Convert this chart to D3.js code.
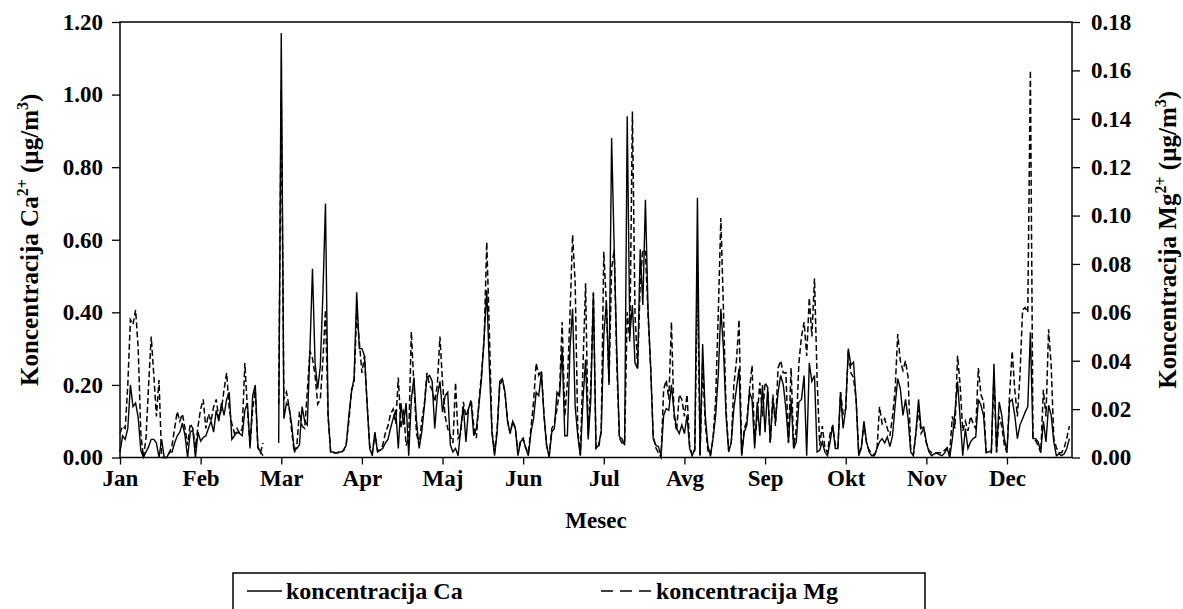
<!DOCTYPE html>
<html>
<head>
<meta charset="utf-8">
<script src="https://cdn.jsdelivr.net/npm/d3@7"></script>
<style>
  body { margin: 0; background: #fff; }
  text { font-family: "Liberation Serif", "Times New Roman", serif; font-weight: bold; fill: #000; }
</style>
</head>
<body>
<svg width="1183" height="609"></svg>
<script>
// month labels and the day index where each tick sits (Excel-style, every 31 days)
var months = ["Jan", "Feb", "Mar", "Apr", "Maj", "Jun", "Jul", "Avg", "Sep", "Okt", "Nov", "Dec"];
var monthTicks = [0, 31, 62, 93, 124, 155, 186, 217, 248, 279, 310, 341];

var caTicks = [0, 0.2, 0.4, 0.6, 0.8, 1.0, 1.2];
var mgTicks = [0, 0.02, 0.04, 0.06, 0.08, 0.10, 0.12, 0.14, 0.16, 0.18];

// daily Ca2+ concentration (µg/m3), null = no sample
var ca = [
  0.015,0.06,0.05,0.08,0.20,0.14,0.15,0.11,0.02,0.0,
  0.015,0.03,0.05,0.05,0.04,0.0,0.05,0.0,0.0,0.015,
  0.015,0.04,0.06,0.07,0.095,0.06,0.0,0.07,0.075,0.0,
  0.07,0.045,0.055,0.06,0.08,0.1,0.07,0.13,0.1,0.15,
  0.116,0.16,0.18,0.05,0.06,0.07,0.066,0.06,0.13,0.15,
  0.025,0.17,0.2,0.03,0.015,0.005,null,null,null,null,
  null,0.04,1.17,0.107,0.15,0.14,0.09,0.02,0.025,0.035,
  0.14,0.1,0.09,0.29,0.52,0.26,0.19,0.25,0.45,0.70,
  0.116,0.015,0.015,0.012,0.015,0.015,0.02,0.035,0.116,0.18,
  0.22,0.455,0.30,0.30,0.28,0.15,0.025,0.005,0.07,0.015,
  0.02,0.025,0.04,0.05,0.08,0.107,0.13,0.025,0.15,0.09,
  0.15,0.005,0.16,0.22,0.1,0.025,0.07,0.14,0.22,0.226,
  0.21,0.08,0.17,0.21,0.125,0.17,0.18,0.035,0.015,0.025,
  0.005,0.08,0.14,0.043,0.135,0.153,0.06,0.08,0.144,0.22,
  0.33,0.46,0.25,0.07,0.005,0.07,0.21,0.217,0.18,0.1,
  0.066,0.1,0.08,0.005,0.043,0.052,0.025,0.005,0.07,0.107,
  0.18,0.17,0.235,0.116,0.034,0.0,0.07,0.08,0.18,0.17,
  0.30,0.06,0.06,0.30,0.41,0.14,0.06,0.005,0.16,0.27,
  0.05,0.16,0.455,0.025,0.034,0.07,0.336,0.43,0.2,0.88,
  0.574,0.29,0.057,0.052,0.034,0.94,0.336,0.42,0.26,0.245,
  0.574,0.42,0.71,0.41,0.25,0.052,0.034,0.03,0.005,0.116,
  0.135,0.13,0.2,0.125,0.08,0.066,0.09,0.066,0.116,0.025,
  0.005,0.025,0.716,0.005,0.313,0.116,0.034,0.005,0.052,0.116,
  0.226,0.41,0.30,0.116,0.015,0.043,0.135,0.19,0.245,0.005,
  0.07,0.09,0.18,0.16,0.025,0.153,0.06,0.2,0.07,0.19,
  0.043,0.16,0.1,0.18,0.226,0.2,0.135,0.043,0.16,0.025,
  0.043,0.153,0.16,0.226,0.005,0.26,0.21,0.226,0.015,0.02,
  0.043,0.015,0.005,0.043,0.09,0.025,0.025,0.18,0.08,0.135,
  0.30,0.254,0.263,0.16,0.005,0.025,0.1,0.043,0.015,0.005,
  0.005,0.025,0.043,0.052,0.04,0.057,0.03,0.06,0.144,0.217,
  0.19,0.116,0.16,0.107,0.015,0.005,0.07,0.16,0.08,0.084,
  0.043,0.015,0.005,0.01,0.012,0.008,0.005,0.012,0.025,0.0,
  0.052,0.125,0.21,0.107,0.005,0.08,0.025,0.043,0.052,0.057,
  0.16,0.144,0.116,0.015,0.015,0.02,0.258,0.015,0.153,0.116,
  0.052,0.015,0.153,0.16,0.116,0.052,0.09,0.107,0.125,0.14,
  0.345,0.052,0.052,0.043,0.015,0.1,0.043,0.144,0.116,0.043,
  0.005,0.01,0.005,0.01,0.025,0.052
];

// daily Mg2+ concentration (µg/m3)
var mg = [
  0.01,0.013,0.012,0.03,0.057,0.055,0.061,0.045,0.01,0.0,
  0.008,0.03,0.05,0.034,0.017,0.032,0.0,0.0,0.0,0.002,
  0.005,0.012,0.019,0.015,0.018,0.012,0.005,0.014,0.012,0.004,
  0.013,0.02,0.024,0.012,0.018,0.015,0.021,0.024,0.016,0.02,
  0.028,0.035,0.02,0.014,0.01,0.012,0.01,0.012,0.039,0.02,
  0.005,0.02,0.028,0.004,0.002,0.006,null,null,null,null,
  null,0.022,0.152,0.024,0.027,0.021,0.011,0.002,0.005,0.019,
  0.013,0.012,0.027,0.044,0.041,0.034,0.022,0.024,0.04,0.061,
  0.017,0.002,0.002,0.002,0.002,0.002,0.003,0.006,0.015,0.028,
  0.031,0.06,0.048,0.035,0.042,0.022,0.005,0.002,0.01,0.003,
  0.003,0.005,0.01,0.013,0.018,0.02,0.014,0.033,0.012,0.02,
  0.005,0.008,0.052,0.03,0.01,0.005,0.015,0.022,0.035,0.03,
  0.028,0.023,0.03,0.05,0.031,0.017,0.012,0.009,0.006,0.031,
  0.008,0.01,0.023,0.017,0.02,0.024,0.013,0.008,0.023,0.035,
  0.049,0.089,0.052,0.011,0.002,0.012,0.03,0.032,0.027,0.015,
  0.01,0.015,0.012,0.002,0.007,0.008,0.004,0.002,0.012,0.023,
  0.039,0.034,0.036,0.018,0.005,0.001,0.012,0.014,0.02,0.028,
  0.056,0.017,0.031,0.059,0.092,0.072,0.011,0.001,0.038,0.072,
  0.009,0.03,0.068,0.004,0.004,0.011,0.085,0.063,0.031,0.078,
  0.086,0.038,0.008,0.006,0.006,0.06,0.048,0.143,0.059,0.037,
  0.072,0.086,0.085,0.059,0.038,0.009,0.004,0.002,0.0,0.028,
  0.032,0.024,0.056,0.017,0.011,0.026,0.024,0.017,0.026,0.005,
  0.001,0.003,0.077,0.001,0.039,0.014,0.003,0.001,0.008,0.024,
  0.059,0.099,0.061,0.02,0.003,0.006,0.03,0.04,0.057,0.001,
  0.012,0.015,0.028,0.038,0.006,0.017,0.031,0.017,0.031,0.029,
  0.006,0.026,0.013,0.037,0.04,0.035,0.035,0.006,0.037,0.004,
  0.012,0.039,0.05,0.056,0.042,0.066,0.05,0.074,0.033,0.005,
  0.013,0.004,0.002,0.01,0.013,0.005,0.004,0.027,0.018,0.02,
  0.044,0.035,0.033,0.024,0.002,0.004,0.014,0.006,0.003,0.002,
  0.001,0.003,0.021,0.014,0.016,0.012,0.009,0.017,0.028,0.051,
  0.04,0.036,0.04,0.033,0.003,0.001,0.01,0.02,0.01,0.012,
  0.006,0.003,0.002,0.002,0.002,0.002,0.002,0.003,0.004,0.002,
  0.017,0.012,0.042,0.03,0.011,0.015,0.011,0.017,0.014,0.012,
  0.037,0.026,0.023,0.002,0.002,0.002,0.034,0.002,0.017,0.013,
  0.005,0.002,0.026,0.044,0.028,0.017,0.034,0.061,0.062,0.06,
  0.16,0.008,0.007,0.005,0.002,0.028,0.017,0.053,0.038,0.008,
  0.004,0.002,0.002,0.004,0.008,0.013
];

var svg = d3.select("svg"),
    margin = {top: 22, right: 111, bottom: 151.5, left: 120},
    width = +svg.attr("width"),
    height = +svg.attr("height");

var x = d3.scaleLinear()
    .domain([0, 366])
    .range([margin.left, width - margin.right]);

var yCa = d3.scaleLinear()
    .domain([0, 1.2])
    .range([height - margin.bottom, margin.top]);

var yMg = d3.scaleLinear()
    .domain([0, 0.18])
    .range([height - margin.bottom, margin.top]);

var lineCa = d3.line()
    .defined(function(d) { return d != null; })
    .x(function(d, i) { return x(i); })
    .y(function(d) { return yCa(d); });

var lineMg = d3.line()
    .defined(function(d) { return d != null; })
    .x(function(d, i) { return x(i); })
    .y(function(d) { return yMg(d); });

// series
svg.append("path")
    .datum(mg)
    .attr("fill", "none")
    .attr("stroke", "#000")
    .attr("stroke-width", 1.5)
    .attr("stroke-dasharray", "6,3")
    .attr("d", lineMg);

svg.append("path")
    .datum(ca)
    .attr("fill", "none")
    .attr("stroke", "#000")
    .attr("stroke-width", 1.4)
    .attr("d", lineCa);

// plot frame
svg.append("rect")
    .attr("x", margin.left)
    .attr("y", margin.top)
    .attr("width", width - margin.right - margin.left)
    .attr("height", height - margin.bottom - margin.top)
    .attr("fill", "none")
    .attr("stroke", "#000")
    .attr("stroke-width", 1.5);

function styleAxis(g) {
  g.select(".domain").remove();
  g.selectAll(".tick line").attr("stroke", "#000").attr("stroke-width", 1.3);
  g.selectAll(".tick text")
      .attr("font-family", "Liberation Serif, Times New Roman, serif")
      .attr("font-weight", "bold")
      .attr("font-size", 23)
      .attr("fill", "#000");
}

svg.append("g")
    .attr("transform", "translate(" + margin.left + ",0)")
    .call(d3.axisLeft(yCa).tickValues(caTicks).tickFormat(d3.format(".2f"))
      .tickSize(8).tickPadding(9))
    .call(styleAxis);

svg.append("g")
    .attr("transform", "translate(" + (width - margin.right) + ",0)")
    .call(d3.axisRight(yMg).tickValues(mgTicks).tickFormat(d3.format(".2f"))
      .tickSize(8).tickPadding(11))
    .call(styleAxis);

svg.append("g")
    .attr("transform", "translate(0," + (height - margin.bottom) + ")")
    .call(d3.axisBottom(x).tickValues(monthTicks)
      .tickFormat(function(d, i) { return months[i]; })
      .tickSize(7).tickPadding(5))
    .call(styleAxis);

// axis titles
svg.append("text")
    .attr("x", (margin.left + width - margin.right) / 2)
    .attr("y", 528)
    .attr("text-anchor", "middle")
    .attr("font-size", 23)
    .text("Mesec");

var midY = (margin.top + height - margin.bottom) / 2;

function yTitle(xPos, ion) {
  var t = svg.append("text")
      .attr("transform", "translate(" + xPos + "," + midY + ") rotate(-90)")
      .attr("text-anchor", "middle")
      .attr("font-size", 25);
  t.append("tspan").text("Koncentracija " + ion);
  t.append("tspan").attr("font-size", 16).attr("dy", -10).text("2+");
  t.append("tspan").attr("dy", 10).text(" (µg/m");
  t.append("tspan").attr("font-size", 16).attr("dy", -10).text("3");
  t.append("tspan").attr("dy", 10).text(")");
}
yTitle(38, "Ca");
yTitle(1176, "Mg");

// legend
var legend = svg.append("g");
legend.append("rect")
    .attr("x", 233).attr("y", 573)
    .attr("width", 692).attr("height", 44)
    .attr("fill", "none").attr("stroke", "#000").attr("stroke-width", 1.5);
legend.append("line")
    .attr("x1", 247).attr("x2", 282).attr("y1", 591).attr("y2", 591)
    .attr("stroke", "#000").attr("stroke-width", 1.5);
legend.append("text").attr("x", 286).attr("y", 599).attr("font-size", 24)
    .text("koncentracija Ca");
legend.append("line")
    .attr("x1", 601).attr("x2", 651).attr("y1", 591).attr("y2", 591)
    .attr("stroke", "#000").attr("stroke-width", 1.5)
    .attr("stroke-dasharray", "12,7");
legend.append("text").attr("x", 656).attr("y", 599).attr("font-size", 24)
    .text("koncentracija Mg");
</script>
</body>
</html>
